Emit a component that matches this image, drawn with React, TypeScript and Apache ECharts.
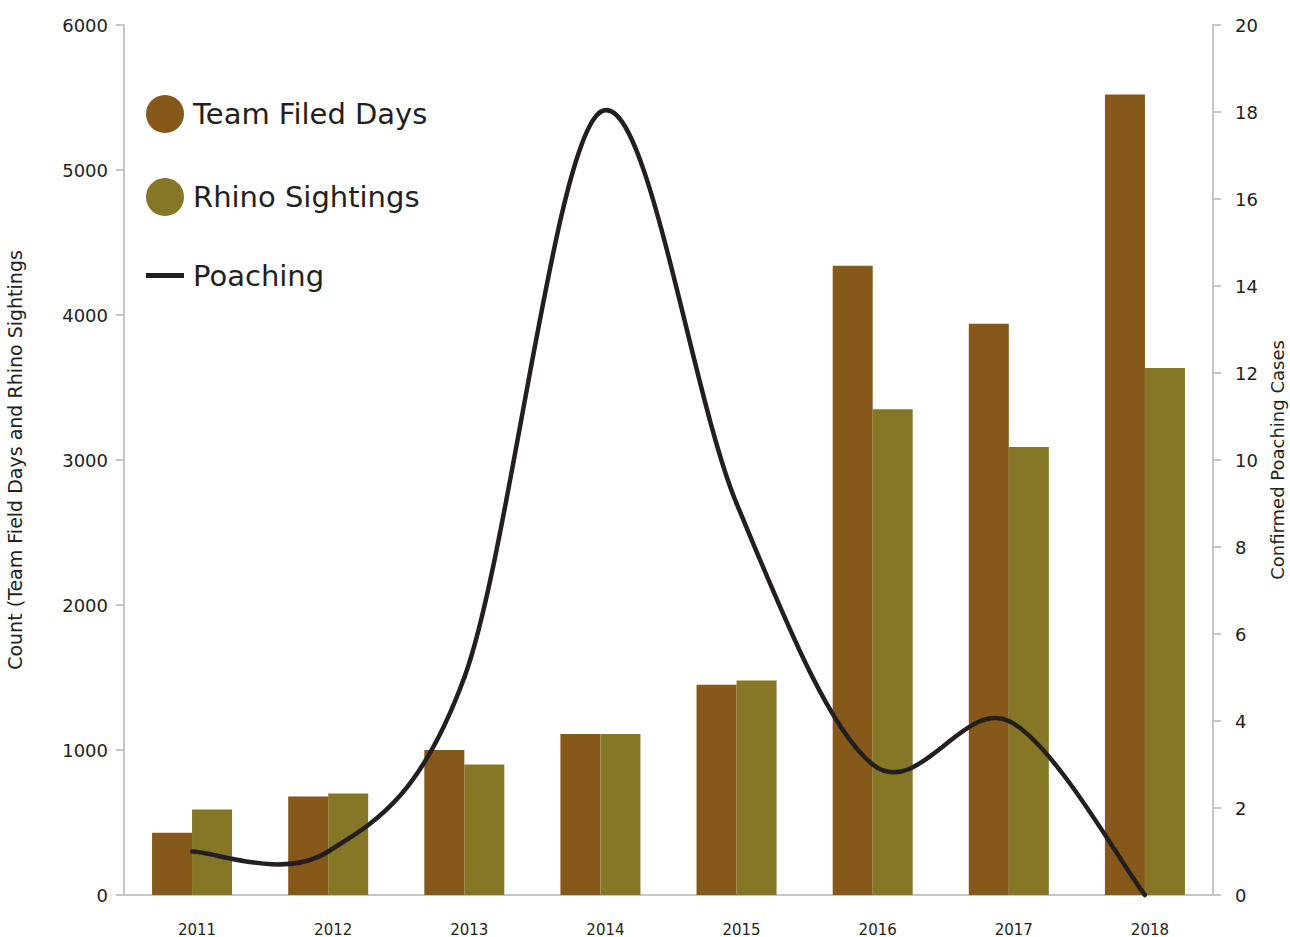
import React, { useEffect, useRef } from "react";
import * as echarts from "echarts";

const years = ["2011", "2012", "2013", "2014", "2015", "2016", "2017", "2018"];
const teamFieldDays = [430, 680, 1000, 1110, 1450, 4340, 3940, 5520];
const rhinoSightings = [590, 700, 900, 1110, 1480, 3350, 3090, 3635];
const poaching = [1, 1, 5, 18, 9, 3, 4, 0];
const leftTicks = { min: 0, max: 6000, interval: 1000 };
const rightTicks = { min: 0, max: 20, interval: 2 };

const FONT = "DejaVu Sans";
const TEXT = "#231f20";
const AXIS = "#c6c6ca";

export default function App() {
  const ref = useRef<HTMLDivElement>(null);
  useEffect(() => {
    document.body.style.margin = "0";
    const chart = echarts.init(ref.current!, null, { renderer: "svg" });
    const n = poaching.length;
    chart.setOption({
      animation: false,
      textStyle: { fontFamily: FONT, color: TEXT },
      grid: { left: 124, right: 77, top: 25, bottom: 42, containLabel: false, outerBoundsMode: "none" },
      legend: {
        orient: "vertical",
        left: 146,
        top: 95,
        padding: 0,
        itemWidth: 38,
        itemHeight: 38,
        itemGap: 45,
        textStyle: { fontSize: 29, color: TEXT, fontFamily: FONT, padding: [0, 0, 0, 4] },
        data: [
          { name: "Team Filed Days", icon: "circle" },
          { name: "Rhino Sightings", icon: "circle" },
          { name: "Poaching", icon: "path://M0,0H38V5H0Z" },
        ],
      },
      xAxis: {
        type: "category",
        data: years,
        axisLine: { lineStyle: { color: AXIS, width: 2 } },
        axisTick: { length: 10, lineStyle: { color: AXIS, width: 2 } },
        axisLabel: { color: TEXT, fontSize: 15, margin: 27, padding: [0, 0, 0, 10] },
      },
      yAxis: [
        {
          type: "value",
          ...leftTicks,
          name: "Count (Team Field Days and Rhino Sightings",
          nameLocation: "middle",
          nameRotate: 90,
          nameGap: 100,
          nameTextStyle: { fontSize: 19, color: TEXT },
          axisLine: { show: true, lineStyle: { color: AXIS, width: 2 } },
          axisTick: { show: true, length: 8, lineStyle: { color: AXIS, width: 2 } },
          axisLabel: { color: TEXT, fontSize: 18, margin: 16, formatter: (v: number) => String(v) },
          splitLine: { show: false },
        },
        {
          type: "value",
          ...rightTicks,
          position: "right",
          name: "Confirmed Poaching Cases",
          nameLocation: "middle",
          nameRotate: 90,
          nameGap: 55,
          nameTextStyle: { fontSize: 18, color: TEXT },
          axisLine: { show: true, lineStyle: { color: AXIS, width: 2 } },
          axisTick: { show: true, length: 8, lineStyle: { color: AXIS, width: 2 } },
          axisLabel: { color: TEXT, fontSize: 18, margin: 22 },
          splitLine: { show: false },
        },
      ],
      series: [
        {
          name: "Team Filed Days",
          type: "bar",
          data: teamFieldDays,
          barWidth: 40,
          barGap: "0%",
          itemStyle: { color: "#86581a" },
        },
        {
          name: "Rhino Sightings",
          type: "bar",
          data: rhinoSightings,
          barWidth: 40,
          itemStyle: { color: "#857725" },
        },
        {
          name: "Poaching",
          type: "custom",
          yAxisIndex: 1,
          z: 5,
          data: poaching.map((v, i) => [years[i], v]),
          encode: { x: 0, y: 1 },
          itemStyle: { color: TEXT },
          clip: false,
          renderItem: (params: any, api: any) => {
            const i = params.dataIndex;
            if (i >= n - 1) return { type: "group", children: [] };
            const pt = (j: number) => {
              const k = Math.max(0, Math.min(n - 1, j));
              return api.coord([k, poaching[k]]);
            };
            const p0 = pt(i - 1);
            const p1 = pt(i);
            const p2 = pt(i + 1);
            const p3 = pt(i + 2);
            const t = 6;
            return {
              type: "bezierCurve",
              z2: 10,
              shape: {
                x1: p1[0],
                y1: p1[1],
                x2: p2[0],
                y2: p2[1],
                cpx1: p1[0] + (p2[0] - p0[0]) / t,
                cpy1: p1[1] + (p2[1] - p0[1]) / t,
                cpx2: p2[0] - (p3[0] - p1[0]) / t,
                cpy2: p2[1] - (p3[1] - p1[1]) / t,
              },
              style: { stroke: TEXT, lineWidth: 4.5, fill: null, lineCap: "round" },
            };
          },
        },
      ],
    });
    return () => chart.dispose();
  }, []);
  return <div ref={ref} style={{ width: 1290, height: 937 }} />;
}
